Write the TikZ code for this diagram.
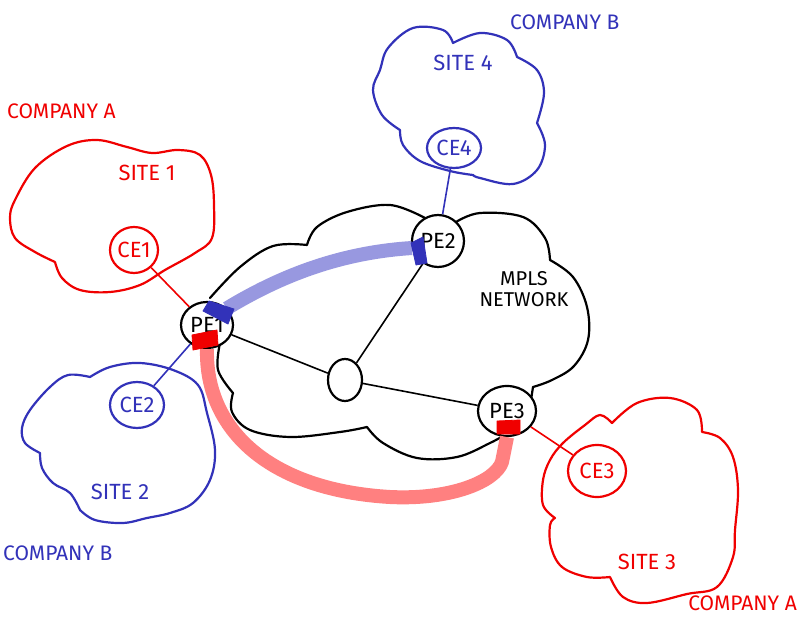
\documentclass[tikz,border=0pt]{standalone}
\usepackage{fontspec}
\setmainfont{Fira Sans}
\usetikzlibrary{shapes.geometric}
\definecolor{mred}{RGB}{240,0,0}
\definecolor{mblue}{RGB}{50,50,185}
\definecolor{bandblue}{RGB}{152,152,224}
\definecolor{bandred}{RGB}{255,128,128}
\begin{document}
\begin{tikzpicture}[x=1pt,y=-1pt,
  cloudline/.style={line width=2.2pt, line join=round, line cap=round},
  rnode/.style={ellipse, draw, line width=2.2pt, fill=white, inner sep=-4pt, font=\fontsize{22}{24}\selectfont},
  lbl/.style={font=\fontsize{22}{24}\selectfont, inner sep=0pt},
  comp/.style={font=\fontsize{21}{23}\selectfont, inner sep=0pt},
  link/.style={line width=1.6pt},
  band/.style={line width=14pt, line cap=butt, line join=round},
  capbox/.style={line width=0.8pt, line join=round}]
\fill[white] (0,0) rectangle (800,620);
\useasboundingbox (0,0) rectangle (800,620);

% ---- Site 1 (red)
\draw[cloudline, mred] plot[smooth, tension=0.6] coordinates {(55,262) (35,252) (15,238) (10,218) (15,200) (35,168) (67,146) (97,140) (127,147) (152,153) (178,150) (200,155) (211,175) (214,205) (212,238) (195,253) (165,270) (140,285) (110,292) (80,290) (62,278) (55,262)};
% ---- Site 4 (blue)
\draw[cloudline, mblue] plot[smooth, tension=0.6] coordinates {(400,130) (382,115) (373,90) (380,70) (388,48) (413,28) (443,30) (453,43)}
 -- plot[smooth, tension=0.6] coordinates {(453,43) (480,33) (507,40) (517,57)}
 -- plot[smooth, tension=0.6] coordinates {(517,57) (537,70) (544,93) (537,123)}
 -- plot[smooth, tension=0.6] coordinates {(537,123) (545,145) (537,170) (513,184) (480,178) (473,175)}
 -- plot[smooth, tension=0.6] coordinates {(473,175) (450,171) (420,161) (403,145) (400,130)} -- cycle;
% ---- Site 2 (blue)
\draw[cloudline, mblue] plot[smooth, tension=0.6] coordinates {(40,453) (25,443) (22,428) (30,410) (50,387) (68,375) (90,377)}
 -- plot[smooth, tension=0.6] coordinates {(90,377) (110,367) (140,363) (173,370) (198,385) (207,413) (215,450) (210,480) (193,503) (170,513) (147,518) (123,523) (95,520) (80,510)}
 -- plot[smooth, tension=0.6] coordinates {(80,510) (70,493) (53,483) (42,468) (40,453)} -- cycle;
% ---- Site 3 (red)
\draw[cloudline, mred] plot[smooth, tension=0.6] coordinates {(555,518) (543,505) (543,480) (550,460) (563,443) (585,425) (600,415) (612,423)}
 -- plot[smooth, tension=0.6] coordinates {(612,423) (637,403) (670,398) (697,410) (702,432)}
 -- plot[smooth, tension=0.6] coordinates {(702,432) (720,438) (733,457) (738,490) (735,530) (733,557) (717,587) (687,594) (647,603) (623,597) (610,577)}
 -- plot[smooth, tension=0.6] coordinates {(610,577) (587,577) (562,567) (551,547) (550,525) (555,518)} -- cycle;
% ---- MPLS cloud (black)
\draw[cloudline, black] plot[smooth, tension=0.6] coordinates {(210,298) (240,267) (273,246) (307,245)}
 -- plot[smooth, tension=0.6] coordinates {(307,245) (317,227) (347,212) (390,205) (425,218)};
\draw[cloudline, black] plot[smooth, tension=0.6] coordinates {(456,222) (480,213) (523,217) (545,238) (550,260)}
 -- plot[smooth, tension=0.6] coordinates {(550,260) (573,277) (587,307) (588,340) (574,366) (552,380) (533,387)}
 -- plot[smooth, tension=0.6] coordinates {(533,387) (531,400)};
\draw[cloudline, black] plot[smooth, tension=0.6] coordinates {(510,432) (490,443) (457,457) (417,458) (383,443) (367,427)}
 -- plot[smooth, tension=0.6] coordinates {(367,427) (340,432) (290,437) (250,430) (232,412) (233,393)}
 -- plot[smooth, tension=0.6] coordinates {(233,393) (218,370) (220,343)};

% ---- nodes
\node[rnode, draw=mred, text=mred, minimum width=48pt, minimum height=46pt] (ce1) at (134,250) {CE1};
\node[rnode, draw=mblue, text=mblue, minimum width=54pt, minimum height=46pt] (ce2) at (137,405) {CE2};
\node[rnode, draw=mred, text=mred, minimum width=58pt, minimum height=52pt] (ce3) at (597,471) {CE3};
\node[rnode, draw=mblue, text=mblue, minimum width=54pt, minimum height=40pt] (ce4) at (454,148) {CE4};
\node[rnode, minimum width=52pt, minimum height=46pt] (pe1) at (207,325) {PE1};
\node[rnode, minimum width=52pt, minimum height=52pt] (pe2) at (438,241) {PE2};
\node[rnode, minimum width=58pt, minimum height=50pt] (pe3) at (507,411) {PE3};
\node[rnode, minimum width=34pt, minimum height=42pt] (p) at (345,380) {};

% ---- links
\draw[link, mred] (ce1) -- (pe1);
\draw[link, mblue] (ce2) -- (pe1);
\draw[link, mblue] (ce4) -- (pe2);
\draw[link, mred] (pe3) -- (ce3);
\draw[link] (pe1) -- (p);
\draw[link] (p) -- (pe2);
\draw[link] (p) -- (pe3);

% ---- tunnels
\draw[band, bandblue] (pe1.40) .. controls (290,270) and (350,252) .. (pe2.195);
\draw[band, bandred] (pe1.south) .. controls (205,430) and (270,490) .. (390,497)
  .. controls (450,500) and (495,482) .. (502,462) -- (pe3.south);
\filldraw[capbox, mblue] (203,311) -- (209,301) -- (234,309) -- (228,324) -- cycle;
\filldraw[capbox, mblue] (411,243) -- (423,237) -- (427,263) -- (416,265) -- cycle;
\filldraw[capbox, mred] (192,335) -- (217,330) -- (218,345) -- (193,350) -- cycle;
\filldraw[capbox, mred] (497,421) -- (520,420) -- (520,434) -- (497,434) -- cycle;

% ---- labels
\node[comp, mred, anchor=west] (compA1) at (7,111) {COMPANY A};
\node[lbl, mred] (site1) at (147,173) {SITE 1};
\node[comp, mblue, anchor=west] (compB1) at (510,22) {COMPANY B};
\node[lbl, mblue] (site4) at (463,63) {SITE 4};
\node[lbl, mblue] (site2) at (120,492) {SITE 2};
\node[comp, mblue, anchor=west] (compB2) at (3,553) {COMPANY B};
\node[lbl, mred] (site3) at (647,562) {SITE 3};
\node[comp, mred, anchor=east] (compA2) at (797,603) {COMPANY A};
\node[lbl, align=center, font=\fontsize{20}{21}\selectfont] (mpls) at (524,289) {MPLS\\NETWORK};
\end{tikzpicture}
\end{document}
